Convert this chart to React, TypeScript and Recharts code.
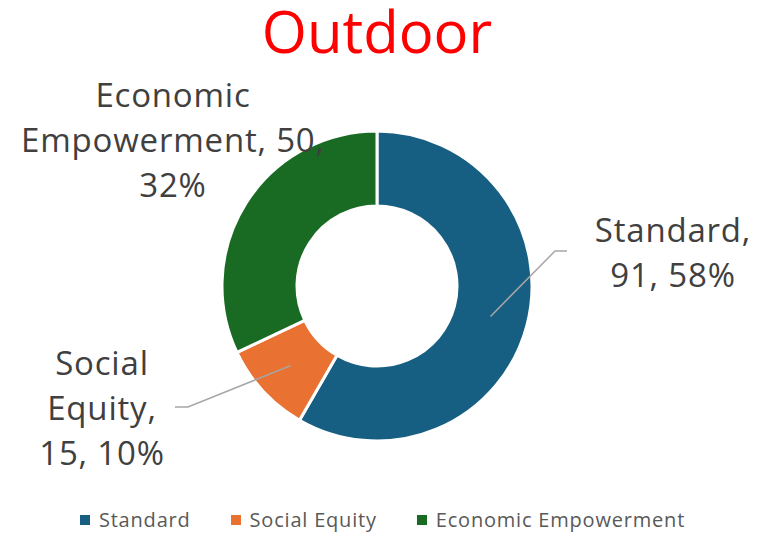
import { PieChart, Pie, Cell, Legend } from 'recharts';

const categories = ['Standard', 'Social Equity', 'Economic Empowerment'];
const counts = [91, 15, 50];
const colors = ['#175F82', '#E97132', '#196B24'];
const chartTitle = 'Outdoor';

// words per label line, per slice
const labelWrap = [[1, 2], [1, 1, 2], [1, 2, 1]];

const data = categories.map((name, i) => ({ name, value: counts[i] }));

const FONT = '"Open Sans", "Noto Sans", sans-serif';
const TEXT = '#404040';
const RAD = Math.PI / 180;

// label placement relative to pie centre (text centre x, first baseline y, elbow)
const labelLayout = [
  { tx: 296, ty: -44, elbow: [178, -35], end: [190, -35] },
  { tx: -275, ty: 89, elbow: [-189, 121], end: [-202, 121] },
  { tx: -204, ty: -179, elbow: null, end: null },
];

function renderLabel(props: any) {
  const { cx, cy, midAngle, innerRadius, outerRadius, index, value, percent, name } = props;
  const lay = labelLayout[index];
  const words = `${name}, ${value}, ${Math.round(percent * 100)}%`.split(' ');
  const lines: string[] = [];
  let k = 0;
  for (const n of labelWrap[index]) {
    lines.push(words.slice(k, k + n).join(' '));
    k += n;
  }
  const r = (innerRadius + outerRadius) / 2;
  const sx = cx + r * Math.cos(-midAngle * RAD);
  const sy = cy + r * Math.sin(-midAngle * RAD);
  return (
    <g>
      {lay.elbow && (
        <polyline
          points={`${sx},${sy} ${cx + lay.elbow[0]},${cy + lay.elbow[1]} ${cx + lay.end![0]},${cy + lay.end![1]}`}
          fill="none"
          stroke="#A6A6A6"
          strokeWidth={1.5}
        />
      )}
      <text
        x={cx + lay.tx}
        y={cy + lay.ty}
        textAnchor="middle"
        fill={TEXT}
        fontSize={33}
        letterSpacing={0.8}
        fontFamily={FONT}
      >
        {lines.map((l, i) => (
          <tspan key={i} x={cx + lay.tx} dy={i === 0 ? 0 : 45}>
            {l}
          </tspan>
        ))}
      </text>
    </g>
  );
}

function renderLegend() {
  return (
    <div
      style={{
        display: 'flex',
        justifyContent: 'center',
        gap: 40,
        fontFamily: FONT,
        fontSize: 20,
        letterSpacing: 0.8,
        color: '#595959',
        paddingRight: 14,
      }}
    >
      {categories.map((c, i) => (
        <div key={c} style={{ display: 'flex', alignItems: 'center' }}>
          <span style={{ width: 10, height: 10, background: colors[i], marginRight: 9, display: 'inline-block' }} />
          {c}
        </div>
      ))}
    </div>
  );
}

export default function App() {
  return (
    <div style={{ position: 'absolute', left: 0, top: 0, width: 779, height: 533, background: '#fff' }}>
      <svg
        width={779}
        height={70}
        style={{ position: 'absolute', left: 0, top: 0, zIndex: 1, pointerEvents: 'none' }}
      >
        <text x={377} y={53} textAnchor="middle" fontFamily={FONT} fontSize={58} fill="#FF0000">
          {chartTitle}
        </text>
      </svg>
      <PieChart width={779} height={533} margin={{ top: 0, right: 0, bottom: 0, left: 0 }}>
        <Pie
          data={data}
          dataKey="value"
          nameKey="name"
          cx={377}
          cy={286}
          innerRadius={80}
          outerRadius={155}
          startAngle={90}
          endAngle={-270}
          stroke="#fff"
          strokeWidth={3}
          labelLine={false}
          label={renderLabel}
          isAnimationActive={false}
        >
          {data.map((d, i) => (
            <Cell key={d.name} fill={colors[i]} />
          ))}
        </Pie>
        <Legend content={renderLegend} verticalAlign="bottom" wrapperStyle={{ bottom: 0 }} />
      </PieChart>
    </div>
  );
}
